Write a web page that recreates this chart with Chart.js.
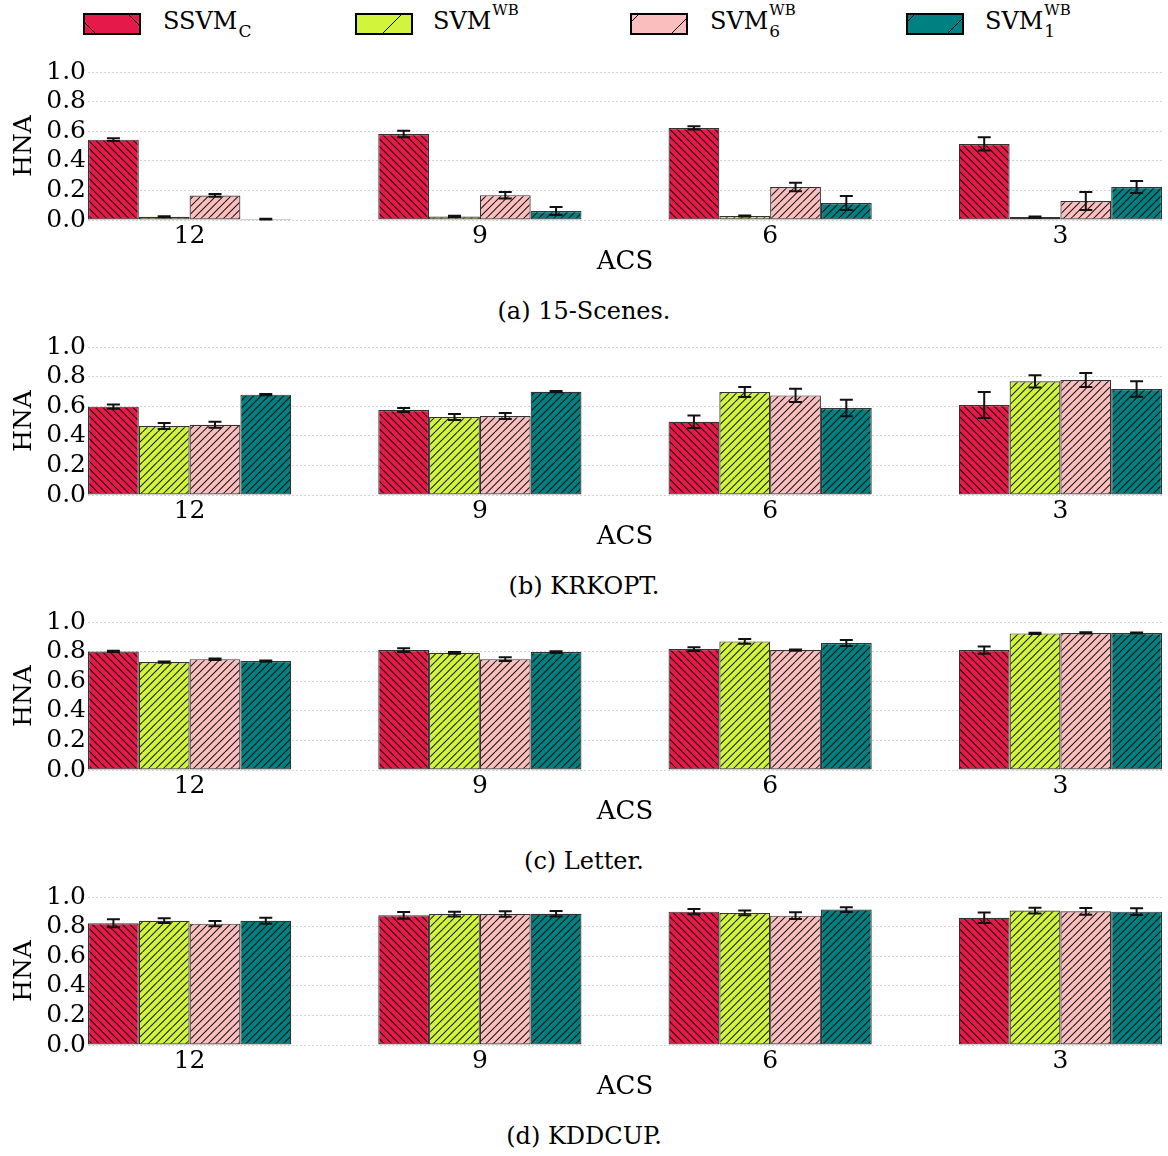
<!DOCTYPE html>
<html>
<head>
<meta charset="utf-8">
<script src="https://cdn.jsdelivr.net/npm/chart.js@4.4.1/dist/chart.umd.min.js"></script>
<style>
  html, body { margin: 0; padding: 0; background: #fff; }
  #page { position: relative; width: 1168px; height: 1156px; overflow: hidden;
          font-family: 'DejaVu Serif', serif; color: #000; }
  canvas.panel { position: absolute; left: 0; }
  .caption { position: absolute; left: 0; width: 1168px; text-align: center;
             font-size: 24px; line-height: 28px; }
  .swatch { position: absolute; top: 13px; }
  .lbl { position: absolute; top: 7px; font-size: 24px; line-height: 28px; white-space: nowrap;
         display: flex; align-items: flex-start; }
  .ss { position: relative; display: inline-block; height: 28px; }
  .sup { position: absolute; left: 1px; top: -5px; font-size: 15px; line-height: 16px; }
  .sub { position: absolute; left: 1px; top: 15px; font-size: 17px; line-height: 18px; }
</style>
</head>
<body>
<div id="page"></div>
<script>
// ACS values on the x axis (one group of bars per value)
const acsLabels = ['12', '9', '6', '3'];

// Series names and styles
const seriesKeys = ['SSVMC', 'SVM', 'SVM6', 'SVM1'];
const seriesColors = ['#e6194b', '#d2f53c', '#fabebe', '#008080'];
const seriesHatch = ['\\', '/', '/', '/'];

// (a) 15-Scenes — HNA means and errors
const scenesSSVMC     = [0.543, 0.581, 0.622, 0.514];
const scenesSSVMCErr  = [0.010, 0.022, 0.011, 0.045];
const scenesSVM       = [0.022, 0.024, 0.027, 0.020];
const scenesSVMErr    = [0.004, 0.004, 0.004, 0.004];
const scenesSVM6      = [0.166, 0.168, 0.223, 0.128];
const scenesSVM6Err   = [0.009, 0.022, 0.029, 0.061];
const scenesSVM1      = [0.006, 0.061, 0.115, 0.223];
const scenesSVM1Err   = [0.002, 0.027, 0.047, 0.040];

// (b) KRKOPT
const krkoptSSVMC     = [0.597, 0.574, 0.495, 0.608];
const krkoptSSVMCErr  = [0.014, 0.014, 0.043, 0.088];
const krkoptSVM       = [0.466, 0.527, 0.696, 0.768];
const krkoptSVMErr    = [0.020, 0.020, 0.034, 0.041];
const krkoptSVM6      = [0.475, 0.534, 0.673, 0.777];
const krkoptSVM6Err   = [0.020, 0.020, 0.045, 0.047];
const krkoptSVM1      = [0.678, 0.698, 0.588, 0.716];
const krkoptSVM1Err   = [0.004, 0.004, 0.056, 0.052];

// (c) Letter
const letterSSVMC     = [0.801, 0.810, 0.817, 0.810];
const letterSSVMCErr  = [0.004, 0.013, 0.013, 0.025];
const letterSVM       = [0.729, 0.792, 0.869, 0.923];
const letterSVMErr    = [0.004, 0.006, 0.016, 0.004];
const letterSVM6      = [0.749, 0.749, 0.810, 0.926];
const letterSVM6Err   = [0.005, 0.013, 0.004, 0.004];
const letterSVM1      = [0.736, 0.797, 0.858, 0.926];
const letterSVM1Err   = [0.004, 0.006, 0.020, 0.003];

// (d) KDDCUP
const kddSSVMC        = [0.822, 0.876, 0.901, 0.860];
const kddSSVMCErr     = [0.027, 0.023, 0.018, 0.036];
const kddSVM          = [0.840, 0.885, 0.892, 0.908];
const kddSVMErr       = [0.016, 0.016, 0.016, 0.020];
const kddSVM6         = [0.820, 0.885, 0.874, 0.903];
const kddSVM6Err      = [0.018, 0.018, 0.023, 0.023];
const kddSVM1         = [0.840, 0.887, 0.915, 0.901];
const kddSVM1Err      = [0.020, 0.018, 0.016, 0.023];

const panels = [
  { caption: '(a) 15-Scenes.', means: [scenesSSVMC, scenesSVM, scenesSVM6, scenesSVM1],
    errors: [scenesSSVMCErr, scenesSVMErr, scenesSVM6Err, scenesSVM1Err] },
  { caption: '(b) KRKOPT.', means: [krkoptSSVMC, krkoptSVM, krkoptSVM6, krkoptSVM1],
    errors: [krkoptSSVMCErr, krkoptSVMErr, krkoptSVM6Err, krkoptSVM1Err] },
  { caption: '(c) Letter.', means: [letterSSVMC, letterSVM, letterSVM6, letterSVM1],
    errors: [letterSSVMCErr, letterSVMErr, letterSVM6Err, letterSVM1Err] },
  { caption: '(d) KDDCUP.', means: [kddSSVMC, kddSVM, kddSVM6, kddSVM1],
    errors: [kddSSVMCErr, kddSVMErr, kddSVM6Err, kddSVM1Err] }
];

// Layout
const PANEL_STEP = 275;
const CANVAS_TOP0 = 52;
const PAD_TOP = 20;
const PLOT_H = 148;
const XAXIS_H = 60;
const YAXIS_W = 88;
const CAPTION_TOP0 = 297;

const FONT = "'DejaVu Serif', serif";
Chart.defaults.font.family = FONT;
Chart.defaults.color = '#000';

// Diagonal hatch fill for the bars
function hatchPattern(color, dir) {
  const s = 15;
  const c = document.createElement('canvas');
  c.width = s; c.height = s;
  const g = c.getContext('2d');
  g.fillStyle = color;
  g.fillRect(0, 0, s, s);
  g.strokeStyle = 'rgba(0,0,0,0.9)';
  g.lineWidth = 1.05;
  g.beginPath();
  for (let k = -2; k <= 2; k++) {
    const o = k * s / 2;
    if (dir === '/') { g.moveTo(o, s); g.lineTo(o + s, 0); }
    else { g.moveTo(o, 0); g.lineTo(o + s, s); }
  }
  g.stroke();
  return g.createPattern(c, 'repeat');
}

// Error bars drawn on top of each bar
const errorBars = {
  id: 'errorBars',
  afterDatasetsDraw(chart, args, opts) {
    const { ctx } = chart;
    const y = chart.scales.y;
    ctx.save();
    ctx.strokeStyle = opts.color;
    ctx.lineWidth = opts.width;
    chart.data.datasets.forEach((ds, i) => {
      const meta = chart.getDatasetMeta(i);
      meta.data.forEach((bar, j) => {
        const v = ds.data[j].y, e = ds.errors[j];
        const top = y.getPixelForValue(v + e);
        const bot = y.getPixelForValue(v - e);
        const x = bar.x;
        ctx.beginPath();
        ctx.moveTo(x, top); ctx.lineTo(x, bot);
        ctx.moveTo(x - opts.cap, top); ctx.lineTo(x + opts.cap, top);
        ctx.moveTo(x - opts.cap, bot); ctx.lineTo(x + opts.cap, bot);
        ctx.stroke();
      });
    });
    ctx.restore();
  }
};

const page = document.getElementById('page');

// Legend
const legendItems = [
  { swatchX: 83,  textX: 163, main: 'SSVM', sup: '',   sub: 'C', w: 16, lines: [-44, 8] },
  { swatchX: 355, textX: 433, main: 'SVM',  sup: 'WB', sub: '',  w: 32, lines: [48] },
  { swatchX: 630, textX: 710, main: 'SVM',  sup: 'WB', sub: '6', w: 32, lines: [10, 62] },
  { swatchX: 906, textX: 985, main: 'SVM',  sup: 'WB', sub: '1', w: 32, lines: [10, 62] }
];
legendItems.forEach((item, i) => {
  const cv = document.createElement('canvas');
  cv.className = 'swatch';
  cv.width = 58; cv.height = 22;
  cv.style.left = item.swatchX + 'px';
  const g = cv.getContext('2d');
  g.fillStyle = seriesColors[i];
  g.fillRect(1, 1, 56, 20);
  g.save();
  g.beginPath(); g.rect(1, 1, 56, 20); g.clip();
  g.strokeStyle = '#000'; g.lineWidth = 1;
  g.beginPath();
  item.lines.forEach(c => {
    if (seriesHatch[i] === '/') { g.moveTo(c - 30, 30); g.lineTo(c + 30, -30); }
    else { g.moveTo(-30, c - 30); g.lineTo(60, c + 60); }
  });
  g.stroke();
  g.restore();
  g.strokeStyle = '#000'; g.lineWidth = 2;
  g.strokeRect(1, 1, 56, 20);
  page.appendChild(cv);

  const lbl = document.createElement('div');
  lbl.className = 'lbl';
  lbl.style.left = item.textX + 'px';
  const main = document.createElement('span');
  main.textContent = item.main;
  lbl.appendChild(main);
  const ss = document.createElement('span');
  ss.className = 'ss';
  ss.style.width = item.w + 'px';
  if (item.sup) {
    const sp = document.createElement('span');
    sp.className = 'sup'; sp.textContent = item.sup; ss.appendChild(sp);
  }
  if (item.sub) {
    const sb = document.createElement('span');
    sb.className = 'sub'; sb.textContent = item.sub; ss.appendChild(sb);
  }
  lbl.appendChild(ss);
  page.appendChild(lbl);
});

const patterns = seriesColors.map((c, i) => hatchPattern(c, seriesHatch[i]));

panels.forEach((p, k) => {
  const cv = document.createElement('canvas');
  cv.className = 'panel';
  cv.width = 1168;
  cv.height = PAD_TOP + PLOT_H + XAXIS_H;
  cv.style.top = (CANVAS_TOP0 + k * PANEL_STEP) + 'px';
  page.appendChild(cv);

  const cap = document.createElement('div');
  cap.className = 'caption';
  cap.style.top = (CAPTION_TOP0 + k * PANEL_STEP) + 'px';
  cap.textContent = p.caption;
  page.appendChild(cap);

  new Chart(cv, {
    type: 'bar',
    data: {
      datasets: seriesKeys.map((key, s) => ({
        label: key,
        data: p.means[s].map((v, i) => ({ x: i, y: v })),
        errors: p.errors[s],
        backgroundColor: patterns[s],
        borderColor: 'rgba(0,0,0,0.8)',
        borderWidth: 1.2,
        borderSkipped: false,
        categoryPercentage: 0.7,
        barPercentage: 1.0
      }))
    },
    options: {
      responsive: false,
      devicePixelRatio: 1,
      animation: false,
      layout: { padding: { top: PAD_TOP, right: 6, left: 0, bottom: 0 } },
      plugins: {
        legend: { display: false },
        tooltip: { enabled: false },
        errorBars: { color: '#111', width: 2, cap: 6.5 }
      },
      scales: {
        x: {
          type: 'linear',
          offset: false,
          min: -0.35,
          max: 3.35,
          afterBuildTicks: (scale) => { scale.ticks = acsLabels.map((_, i) => ({ value: i })); },
          afterFit: (scale) => { scale.height = XAXIS_H; },
          ticks: {
            autoSkip: false, maxRotation: 0, padding: 1,
            font: { size: 25, family: FONT },
            callback: (v) => acsLabels[v]
          },
          grid: { display: false, drawTicks: false, offset: false },
          border: { display: false },
          title: { display: true, text: 'ACS', font: { size: 26, family: FONT },
                   padding: { top: 0, bottom: 2 } }
        },
        y: {
          min: 0,
          max: 1,
          afterFit: (scale) => { scale.width = YAXIS_W; },
          ticks: { stepSize: 0.2, autoSkip: false, padding: 2, font: { size: 25, family: FONT },
                   callback: (v) => Number(v).toFixed(1) },
          grid: { color: '#d4d4d4', lineWidth: 1, drawTicks: false },
          border: { display: false, dash: [2, 2] },
          title: { display: true, text: 'HNA', font: { size: 25, family: FONT },
                   padding: { top: 9, bottom: 0 } }
        }
      }
    },
    plugins: [errorBars]
  });
});
</script>
</body>
</html>
